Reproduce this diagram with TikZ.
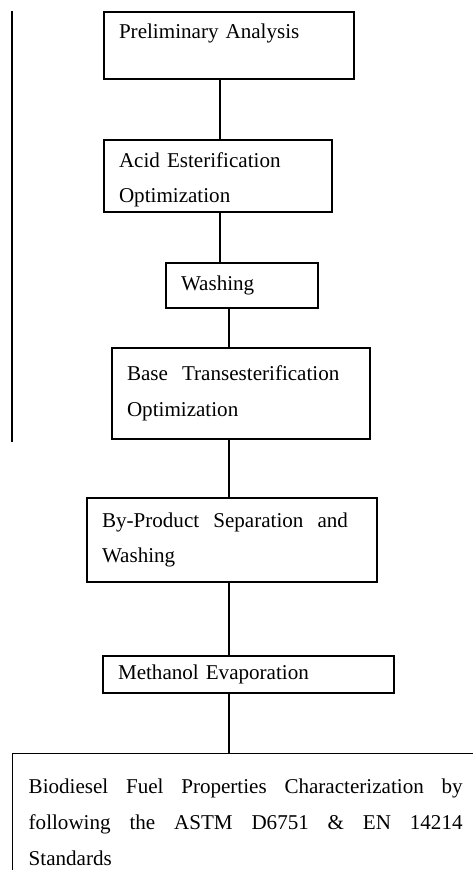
\documentclass[tikz,border=0pt]{standalone}
\usepackage{fontspec}
\setmainfont{Liberation Serif}
\begin{document}
\begin{tikzpicture}[x=0.02cm, y=-0.02cm]
			\tikzstyle{block} = [draw, rectangle, line width=0.8pt, align=left, inner xsep=0.3cm, inner ysep=0pt, font=\fontsize{12}{20.4}\selectfont]
			\useasboundingbox (0,0) rectangle (473,870);
			\clip (0,0) rectangle (473,870);
			\draw[line width=0.8pt] (12,11) -- (12,442);
			\node[block, text width=4.4cm, minimum height=1.34cm] (PA) at (229, 45.5) {\rule{0pt}{12.8pt}Preliminary Analysis\\ \mbox{}};
			\node[block, text width=3.96cm, minimum height=1.44cm] (AE) at (218, 176) {\rule{0pt}{12.8pt}Acid Esterification\\ Optimization};
			\node[block, text width=2.44cm, minimum height=0.9cm] (W) at (242, 285.5) {Washing};
			\node[block, text width=4.56cm, minimum height=1.82cm] (BT) at (241, 393.5) {Base \ Transesterification\\ Optimization};
			\node[block, text width=5.2cm, minimum height=1.68cm] (BP) at (232, 540) {By-Product \ Separation \ and\\ Washing};
			\node[block, text width=5.22cm, minimum height=0.74cm] (ME) at (248.5, 674.5) {Methanol Evaporation};
			\node[block, anchor=north west, align=justify, text width=8.68cm, inner xsep=0.32cm, inner ysep=0.5cm] (BF) at (12, 753) {Biodiesel Fuel Properties Characterization by\linebreak following the ASTM D6751 \& EN 14214\linebreak Standards};
			\coordinate (L1) at (220, 0);
			\coordinate (L2) at (229, 0);
			\draw[line width=0.8pt] (PA.south -| L1) -- (AE.north -| L1);
			\draw[line width=0.8pt] (AE.south -| L1) -- (W.north -| L1);
			\draw[line width=0.8pt] (W.south -| L2) -- (BT.north -| L2);
			\draw[line width=0.8pt] (BT.south -| L2) -- (BP.north -| L2);
			\draw[line width=0.8pt] (BP.south -| L2) -- (ME.north -| L2);
			\draw[line width=0.8pt] (ME.south -| L2) -- (BF.north -| L2);
\end{tikzpicture}
\end{document}
